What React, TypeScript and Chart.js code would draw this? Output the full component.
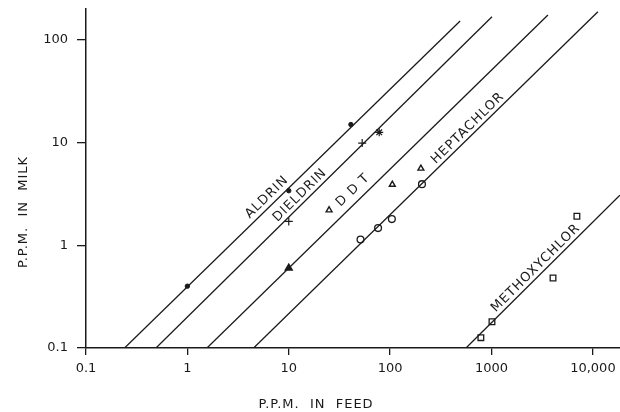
import React, { useEffect, useRef } from 'react';
import { Chart, registerables } from 'chart.js';

Chart.register(...registerables);

// Observed points (P.P.M. in feed -> P.P.M. in milk)
const aldrinFeed = [1, 10, 41];
const aldrinMilk = [0.4, 3.4, 15];
const dieldrinFeed = [10, 53, 78];
const dieldrinMilk = [1.71, 9.9, 12.6];
const ddtFeed = [10, 25, 105, 201];
const ddtMilk = [0.6, 2.2, 3.9, 5.6];
const heptachlorFeed = [51, 76, 104, 206];
const heptachlorMilk = [1.14, 1.47, 1.8, 3.94];
const methoxyFeed = [785, 1010, 4040, 6950];
const methoxyMilk = [0.126, 0.18, 0.48, 1.92];

// Fitted lines: [start, end]
const aldrinLineFeed = [0.24, 490];
const aldrinLineMilk = [0.1, 153];
const dieldrinLineFeed = [0.49, 1010];
const dieldrinLineMilk = [0.1, 168];
const ddtLineFeed = [1.56, 3600];
const ddtLineMilk = [0.1, 175];
const heptLineFeed = [4.5, 11200];
const heptLineMilk = [0.1, 188];
const methLineFeed = [560, 18450];
const methLineMilk = [0.1, 3.08];

const xTickValues = [0.1, 1, 10, 100, 1000, 10000];
const xTickLabels = ['0.1', '1', '10', '100', '1000', '10,000'];
const yTickValues = [0.1, 1, 10, 100];
const yTickLabels = ['0.1', '1', '10', '100'];

const lineNames = ['ALDRIN', 'DIELDRIN', 'D D T', 'HEPTACHLOR', 'METHOXYCHLOR'];
const labelFeed = [6.1, 12.9, 43, 585, 2740];
const labelMilk = [2.94, 3.07, 3.44, 13.8, 0.6];

const xTitle = 'P.P.M.  IN  FEED';
const yTitle = 'P.P.M.  IN  MILK';

const INK = '#1a1a1a';
const FONT = '"DejaVu Sans", sans-serif';

export default function App() {
  const ref = useRef<HTMLCanvasElement>(null);

  useEffect(() => {
    const canvas = ref.current;
    if (!canvas) return;
    const pts = (xs: number[], ys: number[]) => xs.map((x, i) => ({ x, y: ys[i] }));
    const lineDs = (xs: number[], ys: number[]) => ({
      data: pts(xs, ys),
      showLine: true,
      borderColor: INK,
      borderWidth: 1.3,
      pointRadius: 0,
      pointHoverRadius: 0,
      fill: false,
    });
    const lines = [
      [aldrinLineFeed, aldrinLineMilk],
      [dieldrinLineFeed, dieldrinLineMilk],
      [ddtLineFeed, ddtLineMilk],
      [heptLineFeed, heptLineMilk],
      [methLineFeed, methLineMilk],
    ];

    const labelPlugin = {
      id: 'labels',
      afterDraw(chart: any) {
        const ctx = chart.ctx as CanvasRenderingContext2D;
        const xs = chart.scales.x;
        const ys = chart.scales.y;
        ctx.save();
        ctx.fillStyle = INK;
        ctx.font = `13px ${FONT}`;
        (ctx as any).letterSpacing = '1px';
        ctx.textAlign = 'center';
        ctx.textBaseline = 'middle';
        lineNames.forEach((name, i) => {
          const [lf, lm] = lines[i];
          const x0 = xs.getPixelForValue(lf[0]);
          const y0 = ys.getPixelForValue(lm[0]);
          const x1 = xs.getPixelForValue(lf[1]);
          const y1 = ys.getPixelForValue(lm[1]);
          const ang = Math.atan2(y1 - y0, x1 - x0);
          const px = xs.getPixelForValue(labelFeed[i]);
          const py = ys.getPixelForValue(labelMilk[i]);
          ctx.save();
          ctx.translate(px, py);
          ctx.rotate(ang);
          ctx.fillText(name, 0, 0);
          ctx.restore();
        });
        // axis titles
        ctx.fillText(xTitle, 316, 405);
        ctx.save();
        ctx.translate(24, 212);
        ctx.rotate(-Math.PI / 2);
        ctx.fillText(yTitle, 0, 0);
        ctx.restore();
        ctx.restore();
      },
    };

    const chart = new Chart(canvas, {
      type: 'scatter',
      data: {
        datasets: [
          ...lines.map(([f, m]) => lineDs(f, m)),
          {
            data: pts(aldrinFeed, aldrinMilk),
            pointStyle: 'circle',
            pointRadius: 2.2,
            backgroundColor: INK,
            borderColor: INK,
            borderWidth: 1,
          },
          {
            data: pts(dieldrinFeed, dieldrinMilk),
            pointStyle: ['cross', 'cross', 'star'],
            pointRadius: 4,
            borderColor: INK,
            borderWidth: 1.2,
          },
          {
            data: pts(ddtFeed, ddtMilk),
            pointStyle: 'triangle',
            pointRadius: [4, 3.4, 3.4, 3.4],
            backgroundColor: [INK, '#fff', '#fff', '#fff'],
            borderColor: INK,
            borderWidth: 1.4,
          },
          {
            data: pts(heptachlorFeed, heptachlorMilk),
            pointStyle: 'circle',
            pointRadius: 3.4,
            backgroundColor: '#fff',
            borderColor: INK,
            borderWidth: 1.3,
          },
          {
            data: pts(methoxyFeed, methoxyMilk),
            pointStyle: 'rect',
            pointRadius: 4,
            backgroundColor: '#fff',
            borderColor: INK,
            borderWidth: 1.3,
          },
        ] as any,
      },
      options: {
        animation: false,
        responsive: false,
        devicePixelRatio: 1,
        layout: { autoPadding: false, padding: { top: 9, right: 0, left: 0, bottom: 0 } },
        plugins: { legend: { display: false }, tooltip: { enabled: false } },
        events: [],
        scales: {
          x: {
            type: 'logarithmic',
            min: 0.1,
            max: 18500,
            position: 'bottom',
            afterBuildTicks: (s: any) => {
              s.ticks = xTickValues.map((v) => ({ value: v }));
            },
            afterFit: (s: any) => {
              s.height = 64;
              s.paddingLeft = 0;
              s.paddingRight = 0;
            },
            ticks: {
              autoSkip: false,
              maxRotation: 0,
              padding: 6,
              color: INK,
              font: { family: FONT, size: 13 },
              callback: (v: any) => xTickLabels[xTickValues.indexOf(Number(v))] ?? '',
            },
            grid: { drawOnChartArea: false, drawTicks: true, tickLength: 7, color: INK, lineWidth: 1.3 },
            border: { display: true, color: INK, width: 1.5 },
          },
          y: {
            type: 'logarithmic',
            min: 0.1,
            max: 200,
            afterBuildTicks: (s: any) => {
              s.ticks = yTickValues.map((v) => ({ value: v }));
            },
            afterFit: (s: any) => {
              s.width = 86;
              s.paddingTop = 0;
              s.paddingBottom = 0;
            },
            ticks: {
              autoSkip: false,
              padding: 9,
              color: INK,
              font: { family: FONT, size: 13 },
              callback: (v: any) => yTickLabels[yTickValues.indexOf(Number(v))] ?? '',
            },
            grid: { drawOnChartArea: false, drawTicks: true, tickLength: 9, color: INK, lineWidth: 1.3 },
            border: { display: true, color: INK, width: 1.5 },
          },
        },
      } as any,
      plugins: [labelPlugin],
    });
    return () => chart.destroy();
  }, []);

  return (
    <div style={{ position: 'fixed', left: 0, top: 0, width: 620, height: 412, background: '#fff' }}>
      <canvas ref={ref} width={620} height={412} style={{ display: 'block', width: 620, height: 412 }} />
    </div>
  );
}
